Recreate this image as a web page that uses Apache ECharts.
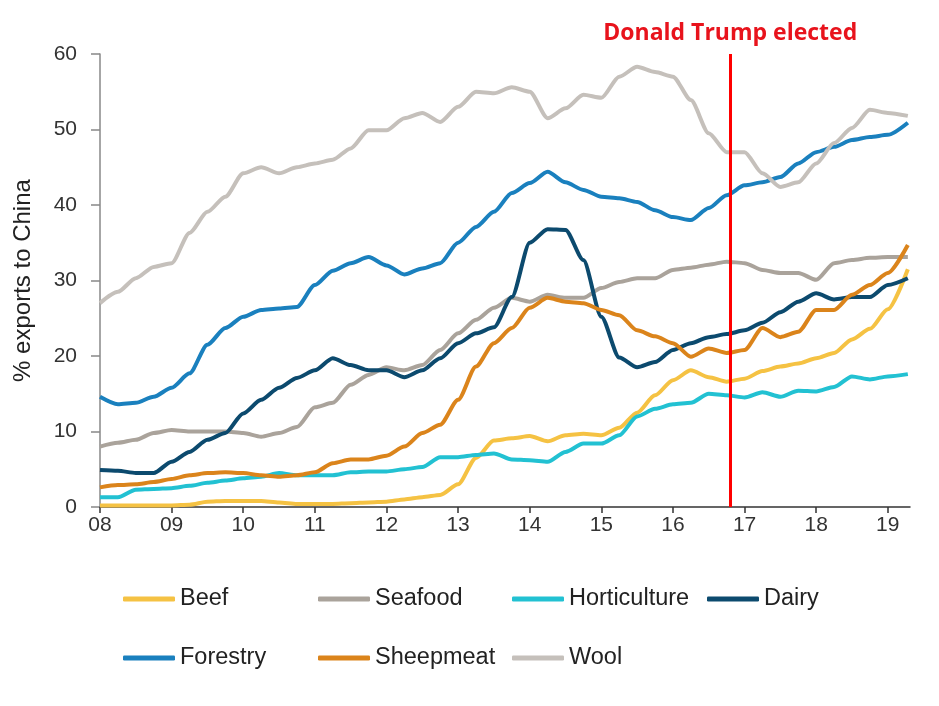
<!DOCTYPE html>
<html><head><meta charset="utf-8">
<script src="https://cdn.jsdelivr.net/npm/echarts@6/dist/echarts.min.js"></script>
<style>html,body{margin:0;padding:0;background:#fff}#c{width:939px;height:706px}</style>
</head><body><div id="c"></div>
<script>
// time points (year, two-digit, fractional)
const years = [8,8.25,8.5,8.75,9,9.25,9.5,9.75,10,10.25,10.5,10.75,11,11.25,11.5,11.75,12,12.25,12.5,12.75,13,13.25,13.5,13.75,14,14.25,14.5,14.75,15,15.25,15.5,15.75,16,16.25,16.5,16.75,17,17.25,17.5,17.75,18,18.25,18.5,18.75,19,19.28];
const beef = [0.2,0.2,0.2,0.2,0.2,0.3,0.7,0.8,0.8,0.8,0.6,0.4,0.4,0.4,0.5,0.6,0.7,1.0,1.3,1.6,3.0,6.5,8.8,9.1,9.4,8.7,9.5,9.7,9.5,10.5,12.5,14.8,16.8,18.1,17.2,16.6,17.0,18.0,18.6,19.0,19.7,20.4,22.2,23.6,26.2,31.5];
const seafood = [8.0,8.5,8.9,9.8,10.2,10.0,10.0,10.0,9.8,9.3,9.8,10.6,13.2,13.8,16.2,17.5,18.5,18.1,18.8,20.8,23.0,24.8,26.4,27.7,27.2,28.1,27.7,27.7,29.0,29.8,30.3,30.3,31.4,31.7,32.1,32.5,32.3,31.4,31.0,31.0,30.1,32.3,32.7,33.0,33.1,33.1];
const horticulture = [1.3,1.3,2.3,2.4,2.5,2.8,3.2,3.5,3.8,4.0,4.5,4.2,4.2,4.2,4.6,4.7,4.7,5.0,5.3,6.6,6.6,6.9,7.1,6.3,6.2,6.0,7.3,8.4,8.4,9.5,12.0,13.0,13.6,13.8,15.0,14.8,14.5,15.2,14.6,15.4,15.3,15.9,17.3,16.9,17.3,17.6];
const dairy = [4.9,4.8,4.5,4.5,6.0,7.3,8.9,9.8,12.4,14.2,15.8,17.1,18.1,19.7,18.8,18.1,18.1,17.2,18.1,19.7,21.7,23.0,23.8,27.8,35.0,36.8,36.7,32.7,25.2,19.8,18.5,19.2,20.8,21.7,22.5,22.9,23.4,24.4,25.8,27.2,28.3,27.5,27.8,27.8,29.4,30.3];
const forestry = [14.6,13.6,13.8,14.6,15.8,17.7,21.5,23.7,25.2,26.1,26.3,26.5,29.4,31.3,32.3,33.1,32.0,30.8,31.6,32.3,35.0,37.1,39.1,41.6,42.9,44.4,43.0,42.0,41.1,40.9,40.4,39.3,38.4,38.0,39.6,41.3,42.6,43.0,43.7,45.5,47.0,47.7,48.6,49.0,49.3,50.9];
const sheepmeat = [2.6,2.9,3.0,3.3,3.7,4.2,4.5,4.6,4.5,4.2,4.0,4.2,4.6,5.8,6.3,6.3,6.8,8.0,9.8,10.9,14.2,18.6,21.7,23.7,26.4,27.7,27.2,27.0,26.1,25.4,23.4,22.6,21.7,19.9,21.0,20.4,20.8,23.7,22.5,23.2,26.1,26.1,28.1,29.4,31.0,34.7];
const wool = [27.0,28.5,30.3,31.8,32.3,36.3,39.1,41.1,44.2,45.0,44.2,45.0,45.5,46.0,47.5,49.9,49.9,51.5,52.2,51.0,53.0,55.0,54.8,55.6,55.0,51.5,52.8,54.6,54.2,57.0,58.3,57.6,57.0,53.9,49.5,47.0,47.0,44.2,42.4,43.0,45.5,48.2,50.2,52.6,52.2,51.8];
const xTicks = [8,9,10,11,12,13,14,15,16,17,18,19];
const seriesNames = ['Beef','Seafood','Horticulture','Dairy','Forestry','Sheepmeat','Wool'];
const electionYear = 16.8;
const electionLabel = 'Donald Trump elected';
const yAxisName = '% exports to China';

const seriesData = [beef, seafood, horticulture, dairy, forestry, sheepmeat, wool];
const colors = ['#F5C243','#AAA39B','#22C1D2','#0C4A6E','#1A80BE','#DB841B','#C5C0BB'];
const legendPos = [[123,587],[318,587],[512,587],[707,587],[123,646],[318,646],[512,646]];
const FONT = 'Liberation Sans, Arial, sans-serif';

const chart = echarts.init(document.getElementById('c'), null, {renderer:'canvas'});
const series = seriesNames.map((name,i)=>({
  name, type:'line', showSymbol:false, smooth:0.25, smoothMonotone:'x',
  data: years.map((y,k)=>[y, seriesData[i][k]]),
  lineStyle:{width:4, color:colors[i]}, itemStyle:{color:colors[i]},
  z: 2
}));
series[0].markLine = {
  silent:true, symbol:['none','none'], animation:false,
  data:[{xAxis: electionYear}],
  lineStyle:{color:'#FF0000', width:3, type:'solid'},
  label:{show:true, position:'end', formatter: electionLabel, color:'#E8131C',
         fontSize:23, fontWeight:'bold', fontFamily:'Open Sans, sans-serif', distance:9}
};
const legends = seriesNames.map((name,i)=>({
  data:[name], left:legendPos[i][0], top:legendPos[i][1], orient:'horizontal',
  icon:'roundRect', itemWidth:52, itemHeight:5, padding:0, itemGap:0,
  textStyle:{fontSize:23.5, color:'#222', fontFamily:FONT}
}));
chart.setOption({
  animation:false,
  backgroundColor:'#fff',
  color: colors,
  legend: legends,
  grid:{left:100, right:29, top:54, bottom:199, containLabel:false},
  xAxis:{type:'value', min:8, max:19.31,
    axisLine:{show:true, lineStyle:{color:'#333', width:1.5}},
    axisTick:{show:true, length:6, lineStyle:{color:'#333', width:1.5}, customValues: xTicks},
    axisLabel:{fontSize:21, color:'#333', fontFamily:FONT, margin:8, customValues: xTicks,
      formatter: v => String(Math.round(v)).padStart(2,'0')},
    splitLine:{show:false}},
  yAxis:{type:'value', min:0, max:60, interval:10,
    name: yAxisName, nameLocation:'middle', nameGap:65, nameRotate:90,
    nameTextStyle:{fontSize:24, color:'#222', fontFamily:FONT},
    axisLine:{show:true, lineStyle:{color:'#888', width:1.5}},
    axisTick:{show:true, length:9, lineStyle:{color:'#888', width:1.5}},
    axisLabel:{fontSize:21, color:'#333', fontFamily:FONT, margin:23},
    splitLine:{show:false}},
  series
});
</script></body></html>
